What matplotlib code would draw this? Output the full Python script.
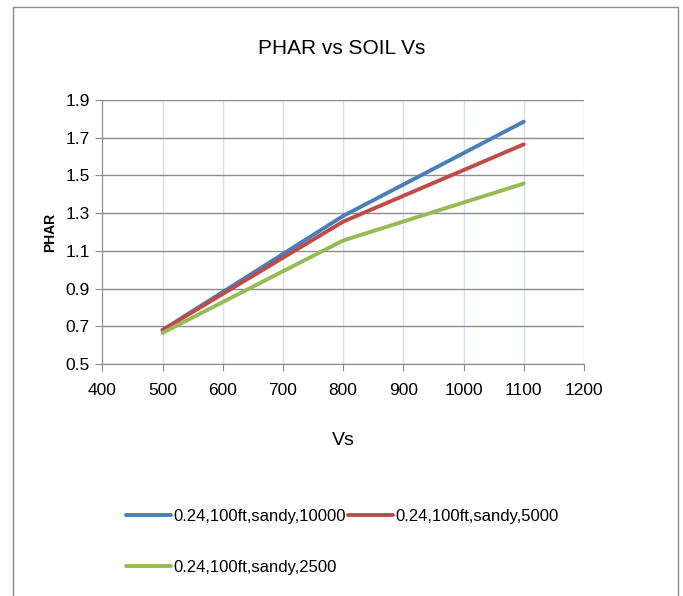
import matplotlib
matplotlib.use("Agg")
import matplotlib.pyplot as plt
from matplotlib.patches import Rectangle

vs = [500, 800, 1100]
phar_10000 = [0.68, 1.285, 1.785]
phar_5000 = [0.68, 1.255, 1.665]
phar_2500 = [0.665, 1.155, 1.457]
labels = ["0.24,100ft,sandy,10000", "0.24,100ft,sandy,5000", "0.24,100ft,sandy,2500"]
colors = ["#4a7ebb", "#be4b48", "#98b954"]
xticks = [400, 500, 600, 700, 800, 900, 1000, 1100, 1200]
yticks = [0.5, 0.7, 0.9, 1.1, 1.3, 1.5, 1.7, 1.9]

plt.rcParams['font.family'] = ['Liberation Sans', 'DejaVu Sans']

W, H = 683, 596
fig = plt.figure(figsize=(W / 100, H / 100), dpi=100)
fig.patches.append(Rectangle((13 / W, -0.05), (678 - 13) / W, 1.05 - 7 / H,
                             transform=fig.transFigure, fill=False,
                             edgecolor="#8c8c8c", linewidth=1.0))

ax = fig.add_axes([102.3 / W, 1 - 364 / H, (584 - 102.3) / W, (364 - 100) / H])
for y, c, lab in zip([phar_10000, phar_5000, phar_2500], colors, labels):
    ax.plot(vs, y, color=c, linewidth=2.8, label=lab, solid_capstyle='round')

ax.set_xlim(400, 1200)
ax.set_ylim(0.5, 1.9)
ax.set_xticks(xticks)
ax.set_yticks(yticks)
ax.set_yticklabels([f"{v:.1f}" for v in yticks])
ax.tick_params(axis='both', labelsize=12.5, colors="#8c8c8c", labelcolor="black", length=5)
ax.tick_params(axis='x', pad=9)
ax.tick_params(axis='y', pad=4)
ax.yaxis.grid(True, color="#8c8c8c", linewidth=1.0)
ax.xaxis.grid(True, color="#d6dfec", linewidth=1.0)
ax.set_axisbelow(True)
for s in ["top", "right"]:
    ax.spines[s].set_visible(False)
for s in ["left", "bottom"]:
    ax.spines[s].set_color("#8c8c8c")

ax.set_xlabel("Vs", fontsize=14, labelpad=24)
ax.set_ylabel("PHAR", fontsize=10, fontweight='bold', labelpad=6)
fig.text(342 / W, 1 - 48 / H, "PHAR vs SOIL Vs", fontsize=15, ha='center', va='center')

handles, labs = ax.get_legend_handles_labels()
order = [0, 2, 1]
fig.legend([handles[i] for i in order], [labs[i] for i in order],
           loc='upper left', bbox_to_anchor=(126 / W, 1 - 509 / H),
           ncol=2, frameon=False, fontsize=12, handlelength=2.7, handletextpad=0.15,
           columnspacing=0.1, labelspacing=2.15, borderaxespad=0, borderpad=0)

fig.savefig("out.png", dpi=100)
